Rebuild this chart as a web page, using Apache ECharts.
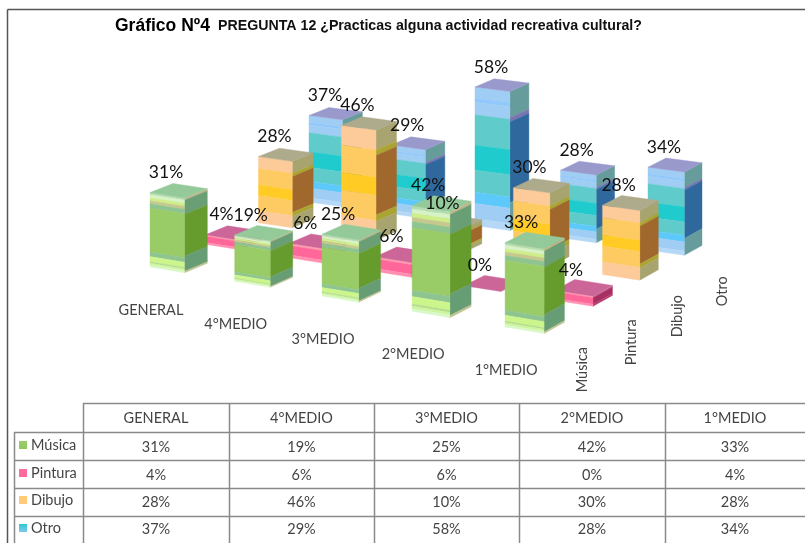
<!DOCTYPE html>
<html>
<head>
<meta charset="utf-8">
<style>html,body{margin:0;padding:0;background:#fff}#c{width:805px;height:543px}</style>
<script src="https://cdn.jsdelivr.net/npm/echarts@6/dist/echarts.min.js"></script>
</head>
<body>
<div id="c"></div>
<script>
const categories = ['GENERAL', '4°MEDIO', '3°MEDIO', '2°MEDIO', '1°MEDIO'];
const seriesNames = ['Música', 'Pintura', 'Dibujo', 'Otro'];
const musica = [31, 19, 25, 42, 33];
const pintura = [4, 6, 6, 0, 4];
const dibujo = [28, 46, 10, 30, 28];
const otro = [37, 29, 58, 28, 34];
const values = [musica, pintura, dibujo, otro];

const swatches = [['#9ccc6c', '#8fc860'], ['#ff6f9c', '#ff6699'], ['#ffcc70', '#ffc880'], ['#2ccad0', '#80c8f0']];

const bandStyles = [
  { top: '#94c99a',
    front: [[0,.03,'#b4dcb0'],[.03,.07,'#d8f2c8'],[.07,.11,'#cdee88'],[.11,.15,'#c6c88e'],[.15,.21,'#8ec490'],[.21,.80,'#99cb66'],[.80,.86,'#8ec490'],[.86,.93,'#ccf58c'],[.93,.95,'#b4dc90'],[.95,.975,'#ccf59c'],[.975,1,'#d8f8c8']],
    side: [[0,.03,'#c0b88c'],[.03,.22,'#6a9f76'],[.22,.78,'#669b2e'],[.78,.98,'#669d74'],[.98,1,'#c0c090']] },
  { top: '#cc6699',
    front: [[0,.15,'#ff9fb0'],[.15,.8,'#ff6699'],[.8,1,'#ff8fb0']],
    side: [[0,.15,'#c07090'],[.15,.8,'#a82f62'],[.8,1,'#b0406c']] },
  { top: '#aeaa8c',
    front: [[0,.18,'#fdca9a'],[.18,.43,'#fdcb62'],[.43,.59,'#ffcb24'],[.59,.82,'#fdcb62'],[.82,1,'#fdca9a']],
    side: [[0,.18,'#a8a470'],[.18,.23,'#aca432'],[.23,.77,'#a0682c'],[.77,.83,'#aca432'],[.83,1,'#a8a470']] },
  { top: '#9a99cc',
    front: [[0,.08,'#9fcdf3'],[.08,.11,'#92c8fb'],[.11,.2,'#9fcdf3'],[.2,.42,'#5fcbcb'],[.42,.6,'#1fcbcd'],[.6,.76,'#5fcbcb'],[.76,.84,'#5dc9fb'],[.84,.95,'#9fcdf3'],[.95,1,'#b4d8f5']],
    side: [[0,.19,'#669c9c'],[.19,.22,'#7a74b0'],[.22,.8,'#2f689c'],[.8,1,'#669c9c']] }
];

const BAR_W = 0.41, BAR_D = 0.41, MAX_V = 3;

// Pseudo-3D projection on top of the flat grid's scales: category position u, depth row v, value h.
function project(api, u, v, h) {
  const o = api.coord([0, 0]);
  const c = api.coord([u, h]);
  const wF = 1 - 0.015 * u, wB = 1 - 0.0101 * u;
  const fx = c[0] / wF, fy = (c[1] + 10.1 * u) / wF;
  const bx = (c[0] + 159 - 3 * u) / wB;
  const by = (o[1] - 65 + 9.5 * u + (c[1] - o[1]) * 0.975) / wB;
  const r = v / MAX_V, t = r + 0.07 * r * (1 - r);
  return [fx + (bx - fx) * t, fy + (by - fy) * t];
}

function poly(points, fill, z2) {
  return { type: 'polygon', shape: { points }, z2: z2 || 0,
    style: { fill, stroke: fill, lineWidth: 0.4 }, silent: true };
}

function renderBar(s) {
  return function (params, api) {
    const u = api.value(0), h = api.value(1), st = bandStyles[s], children = [];
    const u2 = u + BAR_W, v = s, v2 = s + BAR_D;
    if (h > 0) {
      st.side.forEach(b => {
        const h1 = h * (1 - b[0]), h2 = h * (1 - b[1]);
        children.push(poly([project(api, u2, v, h1), project(api, u2, v2, h1), project(api, u2, v2, h2), project(api, u2, v, h2)], b[2]));
      });
      st.front.forEach(b => {
        const h1 = h * (1 - b[0]), h2 = h * (1 - b[1]);
        children.push(poly([project(api, u, v, h1), project(api, u2, v, h1), project(api, u2, v, h2), project(api, u, v, h2)], b[2]));
      });
    }
    children.push(poly([project(api, u, v, h), project(api, u2, v, h), project(api, u2, v2, h), project(api, u, v2, h)], st.top));
    return { type: 'group', children };
  };
}

const labelFont = 'Lato, "Open Sans", sans-serif';

function textEl(x, y, text, size, color, rotation) {
  return { type: 'text', x, y, rotation: rotation || 0, silent: true,
    style: { text, textAlign: 'center', textVerticalAlign: 'middle', fontSize: size, fontFamily: labelFont, fill: color } };
}

function renderValueLabel(s) {
  return function (params, api) {
    const u = api.value(0), h = api.value(1), p = project(api, u, s, h);
    return textEl(p[0] + 16, p[1] - 20, h + '%', 17.5, '#111');
  };
}

function renderCatLabel(params, api) {
  const u = api.value(0), p = project(api, u, 0, 0);
  return textEl(p[0] + 1, p[1] + 43, categories[params.dataIndex], 14.5, '#444');
}

function renderSeriesLabel(params, api) {
  const s = api.value(0), p = project(api, 4 + BAR_W, s, 0);
  return textEl(p[0] + 38, p[1] + 36, seriesNames[s], 14.5, '#444', Math.PI / 2);
}

const series = [];
for (let s = seriesNames.length - 1; s >= 0; s--) {
  series.push({
    type: 'custom', name: seriesNames[s], coordinateSystem: 'cartesian2d', clip: false,
    z: 2 + (seriesNames.length - s), silent: true, animation: false,
    renderItem: renderBar(s), data: values[s].map((val, i) => [i, val])
  });
}
for (let s = 0; s < seriesNames.length; s++) {
  series.push({
    type: 'custom', coordinateSystem: 'cartesian2d', clip: false, z: 20, silent: true, animation: false,
    renderItem: renderValueLabel(s), data: values[s].map((val, i) => [i, val])
  });
}
series.push({ type: 'custom', coordinateSystem: 'cartesian2d', clip: false, z: 20, silent: true, animation: false,
  renderItem: renderCatLabel, data: categories.map((c, i) => [i, 0]) });
series.push({ type: 'custom', coordinateSystem: 'cartesian2d', clip: false, z: 20, silent: true, animation: false,
  renderItem: renderSeriesLabel, data: seriesNames.map((c, i) => [i, 0]) });

// Table and frame
const colX = [83, 229, 374, 519, 665, 805];
const rowY = [403, 432, 460, 488, 516, 543];
const legendX = 14;
const lineColor = '#8a8a8a';
const graphic = [];
function hline(x1, x2, y, c, w) { graphic.push({ type: 'line', shape: { x1, y1: y, x2, y2: y }, style: { stroke: c, lineWidth: w } }); }
function vline(x, y1, y2, c, w) { graphic.push({ type: 'line', shape: { x1: x, y1, x2: x, y2 }, style: { stroke: c, lineWidth: w } }); }
hline(7.5, 805, 9.5, '#555', 1.5);
vline(7.5, 9.5, 543, '#555', 1.5);
hline(colX[0], 805, rowY[0] + .5, lineColor, 1.5);
for (let r = 1; r < 5; r++) hline(legendX, 805, rowY[r] + .5, lineColor, 1.5);
colX.slice(0, 5).forEach(x => vline(x + .5, rowY[0], 543, lineColor, 1.5));
vline(legendX + .5, rowY[1], 543, lineColor, 1.5);
function tableText(text, x, y, align, size) {
  graphic.push({ type: 'text', x, y, style: { text, textAlign: align, textVerticalAlign: 'middle', fontSize: size, fontFamily: labelFont, fill: '#444' } });
}
categories.forEach((c, i) => tableText(c, (colX[i] + colX[i + 1]) / 2, 418, 'center', 14.5));
const legendRowY = [445, 473, 500, 528];
const valueRowY = [447, 475, 502, 529];
seriesNames.forEach((n, s) => {
  graphic.push({ type: 'rect', shape: { x: 19, y: legendRowY[s] - 4, width: 8, height: 8 },
    style: { fill: { type: 'linear', x: 0, y: 0, x2: 0, y2: 1, colorStops: [{ offset: 0, color: swatches[s][0] }, { offset: 1, color: swatches[s][1] }] } } });
  tableText(n, 31, legendRowY[s], 'left', 14.5);
  values[s].forEach((v, i) => tableText(v + '%', (colX[i] + colX[i + 1]) / 2, valueRowY[s], 'center', 14.5));
});
graphic.push({ type: 'text', x: 115, y: 26, style: { text: 'Gráfico Nº4', textVerticalAlign: 'middle', font: 'bold 17.5px "Liberation Sans", Arial, sans-serif', fill: '#000' } });
graphic.push({ type: 'text', x: 218, y: 26, style: { text: 'PREGUNTA 12 ¿Practicas alguna actividad recreativa cultural?', textVerticalAlign: 'middle', font: 'bold 14.2px "Liberation Sans", Arial, sans-serif', fill: '#111' } });

const chart = echarts.init(document.getElementById('c'), null, { renderer: 'canvas' });
chart.setOption({
  animation: false,
  backgroundColor: '#fff',
  grid: { left: 150, top: 27, width: 406, height: 240 },
  xAxis: { type: 'value', min: 0, max: 5, show: false },
  yAxis: { type: 'value', min: 0, max: 100, show: false },
  series,
  graphic
});
</script>
</body>
</html>
